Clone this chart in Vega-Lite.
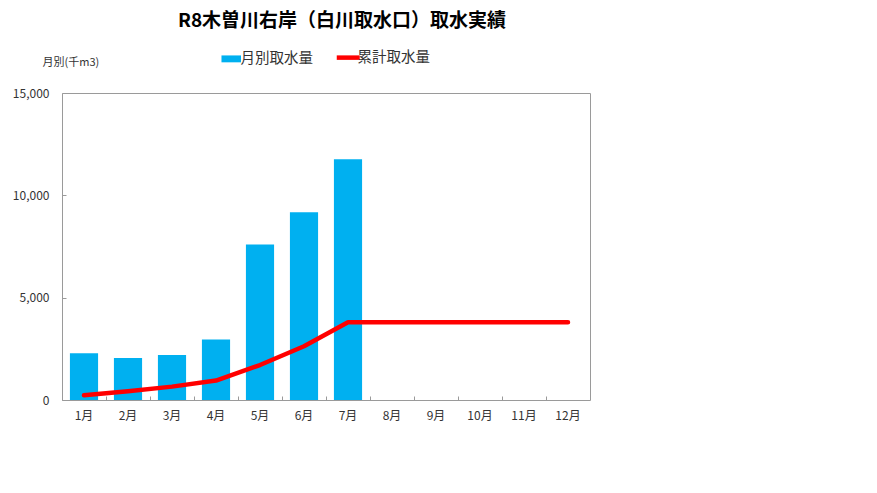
{
  "$schema": "https://vega.github.io/schema/vega-lite/v6.json",
  "description": "R8 Kiso river right bank (Shirakawa intake) monthly and cumulative intake",
  "width": 528,
  "height": 307,
  "autosize": "none",
  "padding": {"left": 62, "top": 93, "right": 287, "bottom": 93},
  "background": "white",
  "title": {
    "text": "R8木曽川右岸（白川取水口）取水実績",
    "font": "Noto Sans CJK JP",
    "fontSize": 19,
    "fontWeight": "bold",
    "color": "#000000",
    "anchor": "middle",
    "frame": "group",
    "dx": 16,
    "offset": 19
  },
  "config": {
    "font": "Noto Sans CJK JP",
    "view": {"stroke": "#9a9a9a", "strokeWidth": 1},
    "axis": {"grid": false, "domain": false, "tickColor": "#9a9a9a", "labelColor": "#333333"}
  },
  "data": {
    "values": [
      {"month": "1月", "monthly": 2280, "cumulative": 2280},
      {"month": "2月", "monthly": 2050, "cumulative": 4330},
      {"month": "3月", "monthly": 2200, "cumulative": 6530},
      {"month": "4月", "monthly": 2950, "cumulative": 9480},
      {"month": "5月", "monthly": 7600, "cumulative": 17080},
      {"month": "6月", "monthly": 9170, "cumulative": 26250},
      {"month": "7月", "monthly": 11760, "cumulative": 38010},
      {"month": "8月", "monthly": null, "cumulative": 38010},
      {"month": "9月", "monthly": null, "cumulative": 38010},
      {"month": "10月", "monthly": null, "cumulative": 38010},
      {"month": "11月", "monthly": null, "cumulative": 38010},
      {"month": "12月", "monthly": null, "cumulative": 38010}
    ]
  },
  "encoding": {
    "x": {
      "field": "month",
      "type": "ordinal",
      "sort": null,
      "scale": {"paddingInner": 0, "paddingOuter": 0},
      "axis": {
        "title": null,
        "labelAngle": 0,
        "labelFontSize": 12,
        "bandPosition": 0,
        "tickSize": -4,
        "labelPadding": 14,
        "labelBaseline": "top"
      }
    }
  },
  "layer": [
    {
      "mark": {"type": "bar", "width": {"band": 0.64}},
      "encoding": {
        "y": {
          "field": "monthly",
          "type": "quantitative",
          "scale": {"domain": [0, 15000], "nice": false},
          "axis": {
            "values": [0, 5000, 10000, 15000],
            "format": ",.0f",
            "labelFontSize": 12,
            "tickSize": -4,
            "labelPadding": 17,
            "title": "月別(千m3)",
            "titleFontSize": 11,
            "titleFontWeight": "normal",
            "titleColor": "#333333",
            "titleAngle": 0,
            "titleAlign": "left",
            "titleBaseline": "middle",
            "titleX": -20,
            "titleY": -31
          }
        },
        "color": {
          "datum": "月別取水量",
          "scale": {"domain": ["月別取水量", "累計取水量"], "range": ["#00b0f0", "#ff0000"]},
          "legend": {
            "title": null,
            "orient": "none",
            "direction": "horizontal",
            "legendX": 162,
            "legendY": -43,
            "labelFontSize": 14.5,
            "labelColor": "#333333",
            "labelOffset": 2,
            "columnPadding": 14,
            "symbolSize": 529,
            "encode": {
              "symbols": {
                "update": {
                  "shape": {"signal": "datum.value === '累計取水量' ? 'stroke' : 'M-0.85,-0.3H0.85V0.3H-0.85Z'"},
                  "fill": {"signal": "datum.value === '累計取水量' ? 'transparent' : '#00b0f0'"},
                  "stroke": {"signal": "datum.value === '累計取水量' ? '#ff0000' : 'transparent'"},
                  "strokeWidth": {"signal": "datum.value === '累計取水量' ? 4.5 : 0"},
                  "opacity": {"value": 1}
                }
              }
            }
          }
        }
      }
    },
    {
      "mark": {"type": "line", "strokeWidth": 4.5, "strokeCap": "round", "strokeJoin": "round"},
      "encoding": {
        "y": {
          "field": "cumulative",
          "type": "quantitative",
          "scale": {"domain": [0, 150000], "nice": false},
          "axis": null
        },
        "color": {"datum": "累計取水量"}
      }
    }
  ],
  "resolve": {"scale": {"y": "independent"}}
}
